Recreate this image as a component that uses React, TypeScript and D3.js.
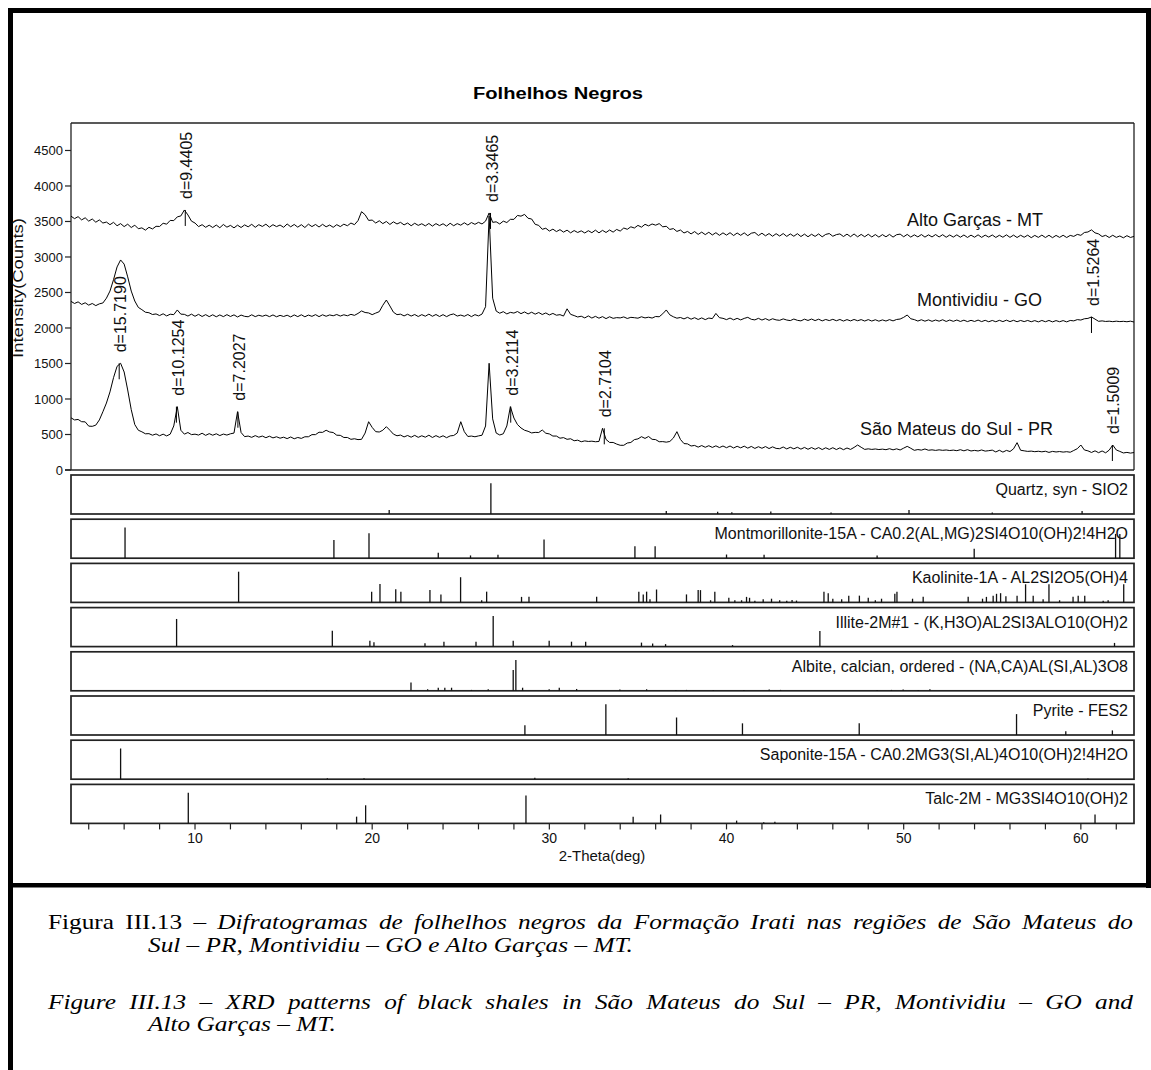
import React, { useLayoutEffect, useRef } from "react";
import * as d3 from "d3";

// ---------- DATA ----------
const THETA_START = 3;
const THETA_STEP = 0.2;

// Alto Garças - MT (counts, 2θ = 3.0 .. 63.0 step 0.2)
const altoGarcas = [
  3575, 3540, 3568, 3522, 3552,
  3505, 3535, 3490, 3522, 3478,
  3492, 3455, 3488, 3440, 3470,
  3428, 3462, 3415, 3448, 3398,
  3410, 3378, 3418, 3395, 3432,
  3430, 3475, 3462, 3515, 3512,
  3565, 3578, 3662, 3592, 3505,
  3478, 3428, 3455, 3418, 3448,
  3415, 3450, 3412, 3458, 3420,
  3445, 3410, 3448, 3415, 3452,
  3425, 3460, 3418, 3455, 3430,
  3462, 3420, 3455, 3428, 3450,
  3418, 3465, 3425, 3458, 3420,
  3455, 3415, 3462, 3428, 3458,
  3422, 3460, 3425, 3450, 3418,
  3455, 3428, 3462, 3440, 3478,
  3455, 3512, 3638, 3595, 3515,
  3520, 3478, 3510, 3470, 3500,
  3458, 3495, 3465, 3488, 3452,
  3478, 3440, 3475, 3445, 3468,
  3438, 3472, 3435, 3470, 3442,
  3468, 3435, 3475, 3440, 3470,
  3448, 3482, 3450, 3485, 3460,
  3488, 3465, 3505, 3620, 3488,
  3495, 3465, 3505, 3485, 3530,
  3530, 3585, 3575, 3600, 3545,
  3535, 3460, 3445, 3390, 3405,
  3365, 3392, 3358, 3385, 3350,
  3378, 3340, 3372, 3345, 3368,
  3338, 3370, 3342, 3378, 3340,
  3375, 3345, 3380, 3350, 3388,
  3365, 3408, 3390, 3425, 3408,
  3445, 3420, 3460, 3438, 3465,
  3448, 3470, 3425, 3432, 3388,
  3400, 3360, 3380, 3338, 3360,
  3325, 3358, 3318, 3350, 3315,
  3348, 3310, 3342, 3305, 3340,
  3308, 3342, 3302, 3338, 3305,
  3340, 3300, 3335, 3345, 3302,
  3335, 3298, 3330, 3292, 3328,
  3295, 3330, 3290, 3325, 3292,
  3328, 3288, 3322, 3285, 3320,
  3290, 3325, 3284, 3318, 3330,
  3292, 3315, 3325, 3288, 3322,
  3286, 3324, 3284, 3318, 3285,
  3320, 3282, 3316, 3280, 3315,
  3284, 3318, 3280, 3314, 3322,
  3285, 3318, 3280, 3312, 3283,
  3316, 3280, 3312, 3282, 3316,
  3282, 3314, 3278, 3310, 3280,
  3312, 3278, 3310, 3275, 3308,
  3278, 3312, 3276, 3308, 3280,
  3310, 3275, 3306, 3278, 3312,
  3276, 3308, 3274, 3306, 3278,
  3307, 3272, 3304, 3276, 3308,
  3274, 3306, 3272, 3304, 3276,
  3306, 3274, 3304, 3290, 3318,
  3305, 3345, 3352, 3382, 3340,
  3325, 3288, 3305, 3274, 3306,
  3276, 3296, 3270, 3300, 3275,
  3290,
];

// Montividiu - GO
const montividiu = [
  2375, 2345, 2368, 2332, 2355,
  2322, 2345, 2315, 2340, 2352,
  2420, 2520, 2680, 2860, 2958,
  2900, 2720, 2520, 2380, 2290,
  2258, 2222, 2215, 2190, 2198,
  2175, 2200, 2170, 2194, 2188,
  2254, 2195, 2192, 2168, 2195,
  2165, 2192, 2162, 2188, 2160,
  2186, 2158, 2184, 2160, 2188,
  2162, 2185, 2155, 2182, 2164,
  2158, 2186, 2160, 2180, 2165,
  2182, 2160, 2184, 2158, 2178,
  2162, 2180, 2156, 2184, 2160,
  2186, 2158, 2182, 2164, 2188,
  2160, 2186, 2165, 2184, 2172,
  2190, 2168, 2186, 2172, 2192,
  2178, 2205, 2240, 2218, 2212,
  2188, 2210, 2230, 2320, 2394,
  2310, 2222, 2188, 2195, 2170,
  2194, 2168, 2190, 2162, 2188,
  2166, 2195, 2165, 2190, 2162,
  2188, 2160, 2186, 2198, 2168,
  2182, 2165, 2190, 2160, 2188,
  2170, 2196, 2300, 3580, 2420,
  2238, 2208, 2230, 2198, 2220,
  2210, 2232, 2202, 2226, 2198,
  2222, 2195, 2218, 2190, 2212,
  2184, 2205, 2180, 2188, 2168,
  2270, 2192, 2175, 2155, 2166,
  2142, 2170, 2140, 2164, 2138,
  2160, 2132, 2158, 2136, 2146,
  2142, 2156, 2134, 2150, 2145,
  2138, 2158, 2142, 2152, 2140,
  2162, 2158, 2200, 2254, 2185,
  2158, 2138, 2148, 2128, 2150,
  2124, 2145, 2120, 2142, 2118,
  2140, 2132, 2205, 2145, 2136,
  2118, 2140, 2115, 2136, 2114,
  2135, 2150, 2122, 2114, 2136,
  2112, 2132, 2108, 2130, 2114,
  2108, 2128, 2112, 2104, 2126,
  2108, 2100, 2124, 2106, 2126,
  2104, 2124, 2100, 2120, 2104,
  2122, 2102, 2120, 2098, 2118,
  2100, 2120, 2102, 2118, 2098,
  2118, 2098, 2116, 2096, 2114,
  2098, 2118, 2100, 2120, 2126,
  2150, 2183, 2130, 2118, 2098,
  2116, 2096, 2114, 2094, 2112,
  2096, 2116, 2092, 2112, 2094,
  2112, 2092, 2110, 2090, 2108,
  2092, 2111, 2090, 2108, 2088,
  2106, 2088, 2108, 2090, 2110,
  2090, 2108, 2088, 2106, 2090,
  2106, 2088, 2104, 2086, 2106,
  2088, 2106, 2086, 2104, 2088,
  2104, 2086, 2106, 2100, 2118,
  2112, 2130, 2135, 2155, 2125,
  2094, 2100, 2092, 2096, 2089,
  2096, 2090, 2094, 2088, 2096,
  2084,
];

// São Mateus do Sul - PR
const saoMateus = [
  735, 705, 712, 680, 678,
  618, 615, 632, 705, 820,
  943, 1100, 1300, 1460, 1503,
  1380, 1127, 850, 640, 560,
  538, 510, 512, 490, 508,
  482, 505, 480, 505, 620,
  892, 560, 505, 528, 498,
  505, 492, 518, 488, 512,
  490, 510, 485, 506, 492,
  510, 520, 821, 528, 470,
  478, 460, 484, 462, 478,
  455, 476, 452, 468, 448,
  462, 442, 465, 440, 458,
  445, 468, 468, 498, 498,
  532, 530, 560, 535, 528,
  490, 488, 458, 458, 432,
  440, 428, 432, 520, 680,
  600, 540, 535, 560, 610,
  560, 505, 482, 492, 466,
  486, 462, 488, 460, 482,
  462, 490, 458, 484, 460,
  482, 455, 480, 486, 520,
  680, 540, 472, 478, 468,
  480, 490, 620, 1503, 720,
  520, 493, 510, 620, 892,
  732, 640, 592, 560, 545,
  522, 530, 528, 563, 518,
  508, 478, 478, 448, 456,
  432, 440, 412, 420, 398,
  410, 402, 406, 398, 402,
  587, 430, 388, 388, 365,
  348, 348, 380, 388, 428,
  438, 469, 445, 472, 432,
  428, 398, 400, 392, 402,
  450, 540, 430, 372, 368,
  338, 346, 322, 344, 320,
  342, 318, 340, 316, 338,
  314, 338, 310, 334, 312,
  336, 308, 332, 304, 328,
  306, 330, 302, 326, 304,
  300, 324, 297, 320, 298,
  320, 294, 318, 292, 316,
  292, 316, 288, 313, 290,
  314, 288, 312, 286, 310,
  290, 318, 352, 320, 290,
  298, 290, 296, 288, 294,
  286, 300, 284, 298, 282,
  308, 333, 306, 277, 288,
  280, 296, 278, 284, 276,
  284, 277, 282, 274, 280,
  272, 286, 270, 286, 268,
  276, 268, 282, 266, 272,
  280, 254, 278, 252, 276,
  260, 298, 385, 278, 270,
  262, 266, 258, 264, 256,
  264, 248, 262, 254, 260,
  252, 258, 250, 275, 300,
  352, 282, 270, 247, 270,
  244, 268, 242, 280, 352,
  282, 262, 240, 248, 238,
  246,
];

const seriesValues = [altoGarcas, montividiu, saoMateus];
const seriesNames = ["Alto Garças - MT", "Montividiu - GO", "São Mateus do Sul - PR"];

const yTickValues = [0, 500, 1000, 1500, 2000, 2500, 3000, 3500, 4000, 4500];
const xMinorTicks = [4, 6, 8, 10, 12, 14, 16, 18, 20, 22, 24, 26, 28, 30, 32, 34, 36, 38, 40, 42, 44, 46, 48, 50, 52, 54, 56, 58, 60, 62];
const xLabelTicks = [10, 20, 30, 40, 50, 60];

// d-spacing annotations
const peakTheta = [9.45, 26.68, 60.6, 5.72, 8.95, 12.42, 27.82, 33.1, 61.78];
const peakText = ["d=9.4405", "d=3.3465", "d=1.5264", "d=15.7190", "d=10.1254", "d=7.2027", "d=3.2114", "d=2.7104", "d=1.5009"];
const peakCounts = [3662, 3620, 2155, 1503, 892, 821, 892, 587, 352];

// reference stick patterns: [2θ, relative intensity %]
const quartzSticks = [[20.96, 13], [26.7, 100], [36.6, 10], [39.5, 7], [40.3, 6], [42.5, 8], [45.9, 5], [50.3, 13], [55.0, 5], [60.07, 10]];
const montmorilloniteSticks = [[6.05, 100], [17.84, 59], [19.82, 81], [23.73, 18], [25.55, 9], [27.1, 11], [29.7, 61], [34.83, 39], [35.97, 39], [40.0, 12], [42.12, 11], [48.5, 9], [53.98, 31], [61.96, 79], [62.2, 79]];
const kaoliniteSticks = [[12.46, 100], [19.97, 35], [20.44, 60], [21.33, 43], [21.62, 35], [23.26, 40], [23.88, 26], [24.99, 82], [26.18, 7], [26.46, 35], [28.43, 18], [28.85, 18], [32.67, 18], [35.05, 35], [35.3, 26], [35.49, 35], [35.68, 10], [36.05, 42], [37.74, 26], [38.4, 40], [38.53, 40], [39.1, 7], [39.34, 35], [40.13, 15], [40.47, 7], [40.85, 7], [41.13, 18], [41.3, 15], [41.6, 5], [42.07, 10], [42.54, 12], [43.0, 7], [43.4, 5], [43.7, 8], [43.95, 6], [45.5, 35], [45.74, 30], [46.0, 12], [46.5, 10], [46.9, 22], [47.5, 22], [48.0, 15], [48.4, 7], [48.75, 12], [49.5, 28], [49.62, 35], [50.5, 12], [51.1, 18], [53.64, 18], [54.45, 12], [54.67, 18], [55.05, 22], [55.24, 28], [55.47, 30], [55.77, 20], [56.4, 22], [56.88, 59], [57.31, 22], [57.87, 10], [58.2, 59], [58.8, 7], [59.56, 18], [59.85, 22], [60.22, 22], [61.26, 5], [61.54, 7], [62.42, 59]];
const illiteSticks = [[8.96, 90], [17.75, 52], [19.87, 19], [20.1, 14], [22.98, 11], [24.05, 16], [25.86, 16], [26.83, 100], [27.96, 19], [29.99, 19], [31.25, 16], [32.05, 16], [35.2, 13], [35.83, 10], [36.56, 8], [40.34, 5], [45.27, 51], [61.9, 12]];
const albiteSticks = [[14.04, 2], [22.19, 27], [23.13, 5], [23.73, 10], [24.1, 10], [24.48, 10], [25.6, 3], [26.55, 5], [27.96, 68], [28.11, 100], [28.49, 10], [29.99, 5], [30.56, 10], [31.54, 6], [33.98, 4], [35.49, 5], [37.14, 3], [37.74, 3], [39.25, 3], [40.98, 3], [42.41, 4], [43.05, 3], [48.5, 3], [49.31, 3], [49.97, 4], [50.82, 3], [51.48, 5]];
const pyriteSticks = [[28.62, 32], [33.19, 100], [37.18, 57], [40.9, 38], [47.49, 38], [56.37, 68], [59.15, 12], [61.78, 15]];
const saponiteSticks = [[5.8, 100], [17.47, 3], [19.54, 3], [29.18, 5], [34.45, 3], [60.4, 2]];
const talcSticks = [[9.62, 100], [19.12, 22], [19.63, 59], [28.68, 91], [34.73, 22], [36.28, 29], [40.57, 9], [42.1, 4], [42.73, 5], [60.8, 29]];

const phaseNames = [
  "Quartz, syn - SIO2",
  "Montmorillonite-15A - CA0.2(AL,MG)2SI4O10(OH)2!4H2O",
  "Kaolinite-1A - AL2SI2O5(OH)4",
  "Illite-2M#1 - (K,H3O)AL2SI3ALO10(OH)2",
  "Albite, calcian, ordered - (NA,CA)AL(SI,AL)3O8",
  "Pyrite - FES2",
  "Saponite-15A - CA0.2MG3(SI,AL)4O10(OH)2!4H2O",
  "Talc-2M - MG3SI4O10(OH)2",
];
const phaseSticks = [quartzSticks, montmorilloniteSticks, kaoliniteSticks, illiteSticks, albiteSticks, pyriteSticks, saponiteSticks, talcSticks];

const titleText = "Folhelhos Negros";
const yAxisTitle = "Intensity(Counts)";
const xAxisTitle = "2-Theta(deg)";

const captionPt1Prefix = "Figura III.13 – ";
const captionPt1Line1 = "Difratogramas de folhelhos negros da Formação Irati nas regiões de São Mateus do";
const captionPt1Line2 = "Sul – PR, Montividiu – GO e Alto Garças – MT.";
const captionEnLine1 = "Figure III.13 – XRD patterns of black shales in São Mateus do Sul – PR, Montividiu – GO and";
const captionEnLine2 = "Alto Garças – MT.";

// ---------- LAYOUT ----------
const W = 1151;
const H = 1070;
const PLOT_L = 71;
const PLOT_R = 1134;
const MAIN_T = 123;
const MAIN_B = 470;
const PANEL_T0 = 475;
const PANEL_STEP = 44.2;
const PANEL_H = 39;
const CAP_SX = 1.15;
const CAP_L = 48;
const CAP_R = 1133;

const sans = "'Liberation Sans', Arial, Helvetica, sans-serif";
const serif = "'Liberation Serif', 'Times New Roman', Times, serif";

export default function App() {
  const x = d3.scaleLinear().domain([3, 63]).range([PLOT_L, PLOT_R]);
  const y = d3.scaleLinear().domain([0, 4887]).range([MAIN_B, MAIN_T]);
  const line = d3
    .line<number>()
    .x((_, i) => x(THETA_START + i * THETA_STEP))
    .y((v) => y(v));

  const axisBottom = PANEL_T0 + 7 * PANEL_STEP + PANEL_H;
  const justified = (CAP_R - CAP_L) / CAP_SX;

  const ptRef = useRef<SVGTextElement>(null);
  const enRef = useRef<SVGTextElement>(null);

  // justify the first line of each caption paragraph by widening word gaps
  useLayoutEffect(() => {
    [ptRef.current, enRef.current].forEach((el) => {
      if (!el) return;
      el.style.wordSpacing = "0px";
      const natural = el.getComputedTextLength();
      const txt = el.textContent || "";
      const gaps = (txt.trim().match(/ +/g) || []).length;
      if (gaps > 0 && natural < justified) {
        el.style.wordSpacing = `${(justified - natural) / gaps}px`;
      }
    });
  }, [justified]);

  return (
    <div style={{ position: "absolute", left: 0, top: 0, width: W, height: H, background: "#fff" }}>
      <svg width={W} height={H} style={{ display: "block" }}>
        <rect x={0} y={0} width={W} height={H} fill="#fff" />

        {/* outer thick frame */}
        <rect x={8} y={8} width={W - 8} height={5} fill="#000" />
        <rect x={8} y={8} width={5} height={H - 8} fill="#000" />
        <rect x={1146} y={8} width={5} height={880} fill="#000" />
        <rect x={8} y={883} width={W - 8} height={4.5} fill="#000" />

        {/* title */}
        <text
          x={558}
          y={99}
          textAnchor="middle"
          fontFamily={sans}
          fontWeight="bold"
          fontSize={16}
          textLength={170}
          lengthAdjust="spacingAndGlyphs"
        >
          {titleText}
        </text>

        {/* main panel frame */}
        <g stroke="#222" strokeWidth={1.3} fill="none">
          <line x1={PLOT_L} y1={MAIN_T} x2={PLOT_R} y2={MAIN_T} />
          <line x1={PLOT_R} y1={MAIN_T} x2={PLOT_R} y2={MAIN_B} />
          <line x1={PLOT_L} y1={MAIN_T} x2={PLOT_L} y2={MAIN_B} />
          <line x1={PLOT_L - 6} y1={MAIN_B} x2={PLOT_R} y2={MAIN_B} />
        </g>

        {/* y ticks */}
        {yTickValues.map((v) => (
          <g key={v}>
            <line x1={PLOT_L - 6} x2={PLOT_L} y1={y(v)} y2={y(v)} stroke="#222" strokeWidth={1.2} />
            <text x={PLOT_L - 8} y={y(v)} dy="0.35em" textAnchor="end" fontFamily={sans} fontSize={13} fill="#111">
              {v}
            </text>
          </g>
        ))}
        <text
          transform={`translate(23,288) rotate(-90)`}
          textAnchor="middle"
          fontFamily={sans}
          fontSize={14}
          textLength={140}
          lengthAdjust="spacingAndGlyphs"
          fill="#111"
        >
          {yAxisTitle}
        </text>

        {/* patterns */}
        {seriesValues.map((vals, si) => (
          <path key={si} d={line(vals) || ""} fill="none" stroke="#000" strokeWidth={1} strokeLinejoin="round" />
        ))}

        {/* series labels */}
        <text x={1043} y={226} textAnchor="end" fontFamily={sans} fontSize={18} fill="#111">{seriesNames[0]}</text>
        <text x={1042} y={306} textAnchor="end" fontFamily={sans} fontSize={18} fill="#111">{seriesNames[1]}</text>
        <text x={1053} y={435} textAnchor="end" fontFamily={sans} fontSize={18} fill="#111">{seriesNames[2]}</text>

        {/* d-spacing labels */}
        {peakText.map((t, i) => {
          const px = x(peakTheta[i]);
          const py = y(peakCounts[i]);
          return (
            <g key={t}>
              <line x1={px} x2={px} y1={py} y2={py + 16} stroke="#000" strokeWidth={1} />
              <text
                transform={`translate(${px + 1.5},${py - 11}) rotate(-90)`}
                dy="0.35em"
                fontFamily={sans}
                fontSize={16}
                fill="#111"
              >
                {t}
              </text>
            </g>
          );
        })}

        {/* reference stick panels */}
        {phaseSticks.map((sticks, pi) => {
          const top = PANEL_T0 + pi * PANEL_STEP;
          const bottom = top + PANEL_H;
          const ys = d3.scaleLinear().domain([0, 127]).range([bottom, top]);
          return (
            <g key={pi}>
              <rect x={PLOT_L} y={top} width={PLOT_R - PLOT_L} height={PANEL_H} fill="none" stroke="#222" strokeWidth={1.7} />
              {sticks.map(([t, r], k) => (
                <line key={k} x1={x(t)} x2={x(t)} y1={bottom} y2={ys(r)} stroke="#111" strokeWidth={1.3} />
              ))}
              <text x={1128} y={top + 20} textAnchor="end" fontFamily={sans} fontSize={16} fill="#111">
                {phaseNames[pi]}
              </text>
            </g>
          );
        })}

        {/* x axis */}
        {xMinorTicks.map((t) => (
          <line key={t} x1={x(t)} x2={x(t)} y1={axisBottom} y2={axisBottom + 6} stroke="#222" strokeWidth={1.2} />
        ))}
        {xLabelTicks.map((t) => (
          <text key={t} x={x(t)} y={843} textAnchor="middle" fontFamily={sans} fontSize={14} fill="#111">
            {t}
          </text>
        ))}
        <text x={602} y={861} textAnchor="middle" fontFamily={sans} fontSize={15} fill="#111">
          {xAxisTitle}
        </text>

        {/* caption */}
        <g fontFamily={serif} fontSize={22} fill="#000" style={{ whiteSpace: "pre" }}>
          <text ref={ptRef} transform={`translate(${CAP_L},929) scale(${CAP_SX},1)`}>
            <tspan>{captionPt1Prefix}</tspan>
            <tspan fontStyle="italic">{captionPt1Line1}</tspan>
          </text>
          <text transform={`translate(148,952) scale(${CAP_SX},1)`} fontStyle="italic">
            {captionPt1Line2}
          </text>
          <text ref={enRef} transform={`translate(${CAP_L},1009) scale(${CAP_SX},1)`} fontStyle="italic">
            {captionEnLine1}
          </text>
          <text transform={`translate(148,1031) scale(${CAP_SX},1)`} fontStyle="italic">
            {captionEnLine2}
          </text>
        </g>
      </svg>
    </div>
  );
}
